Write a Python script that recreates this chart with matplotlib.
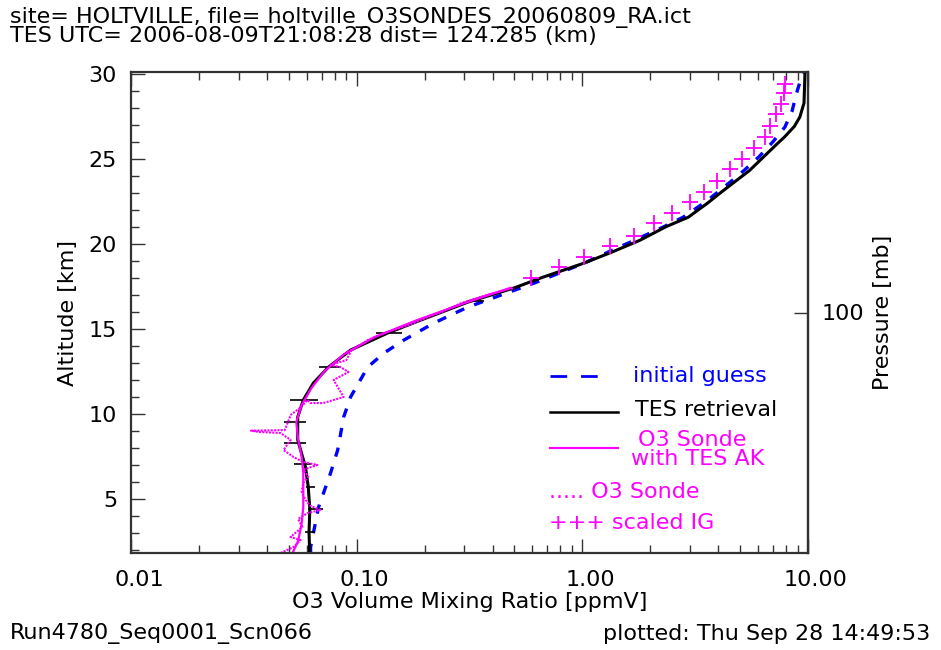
import matplotlib
matplotlib.use("Agg")
import matplotlib.pyplot as plt
import numpy as np
from matplotlib.ticker import FixedLocator, FuncFormatter, MultipleLocator, NullLocator
from matplotlib.transforms import ScaledTranslation

# ---- data ------------------------------------------------------------------
tes_alt = [1.8, 2.15, 3.0, 4.4, 5.7, 6.86, 8.45, 9.8, 10.8, 11.8, 12.74, 13.74,
           14.74, 15.5, 16.56, 17.4, 18.0, 18.86, 19.5, 20.2, 21.0, 21.56,
           22.4, 23.0, 23.56, 24.3, 25.1, 25.8, 26.3, 26.9, 27.45, 28.27, 30.1]
tes_vmr = [0.0618, 0.0618, 0.0615, 0.062, 0.061, 0.0593, 0.0548, 0.0548, 0.058,
           0.0643, 0.075, 0.094, 0.137, 0.192, 0.311, 0.50, 0.66, 1.02, 1.35,
           1.80, 2.35, 2.95, 3.6, 4.1, 4.65, 5.5, 6.35, 7.2, 7.9, 8.7, 9.2,
           9.6, 9.7]

ig_alt = [1.8, 2.15, 4.5, 6.5, 7.86, 9.8, 10.98, 12.74, 13.56, 14.33, 15.33,
          16.27, 17.68, 18.86, 19.5, 20.2, 21.0, 21.56, 22.5, 23.56, 24.3,
          25.1, 26.0, 26.86, 27.8, 28.86, 30.1]
ig_vmr = [0.0625, 0.0625, 0.0678, 0.0766, 0.0824, 0.0876, 0.094, 0.112, 0.132,
          0.162, 0.22, 0.311, 0.612, 1.02, 1.3, 1.7, 2.3, 2.8, 3.55, 4.46, 5.2,
          6.05, 7.0, 7.9, 8.5, 8.9, 9.5]

scaled_alt = [17.98, 18.62, 19.21, 19.86, 20.45, 21.2, 21.8, 22.45, 23.04,
              23.68, 24.39, 24.98, 25.62, 26.27, 26.9, 27.62, 28.2, 28.86, 29.4]
scaled_vmr = [0.593, 0.79, 1.02, 1.32, 1.69, 2.07, 2.49, 2.99, 3.45, 3.94, 4.5,
              5.09, 5.75, 6.44, 6.78, 7.21, 7.59, 7.82, 7.9]

ak_alt = [1.8, 2.5, 3.5, 4.5, 5.5, 6.5, 7.5, 8.5, 9.5, 10.5, 11.5, 12.5, 13.5,
          14.5, 15.5, 16.5, 17.4]
ak_vmr = [0.052, 0.055, 0.057, 0.058, 0.058, 0.058, 0.057, 0.055, 0.054, 0.057,
          0.063, 0.072, 0.088, 0.12, 0.185, 0.30, 0.48]

sonde_alt = [1.8, 2.15, 2.56, 2.74, 3.33, 3.8, 4.15, 4.33, 4.6, 4.92, 5.4, 5.92,
             6.3, 6.7, 6.98, 7.15, 7.45, 7.86, 8.45, 8.86, 8.92, 9.0, 9.03,
             9.62, 9.92, 10.33, 10.8, 10.62, 10.62, 10.98, 11.5, 11.98, 12.45,
             12.74, 12.86, 13.15, 13.74, 14.33, 14.74, 15.2, 15.6, 16.0, 16.5,
             17.0, 17.4]
sonde_vmr = [0.046, 0.0525, 0.0564, 0.0509, 0.0575, 0.055, 0.0606, 0.069, 0.062,
             0.0594, 0.057, 0.058, 0.061, 0.058, 0.067, 0.058, 0.0525, 0.0474,
             0.051, 0.046, 0.0367, 0.034, 0.048, 0.05, 0.051, 0.056, 0.0606,
             0.0625, 0.0712, 0.0876, 0.083, 0.079, 0.092, 0.0848, 0.0766, 0.09,
             0.095, 0.112, 0.132, 0.17, 0.2, 0.24, 0.29, 0.38, 0.5]

# TES error bars (altitude, low, high)
err_alt = [3.04, 4.39, 5.68, 7.04, 8.27, 9.5, 10.8, 12.74, 14.74, 16.62]
err_lo = [0.059, 0.061, 0.0594, 0.0525, 0.0474, 0.0474, 0.0509, 0.0678, 0.1216, 0.311]
err_hi = [0.0657, 0.0706, 0.0657, 0.0625, 0.0594, 0.0594, 0.0671, 0.0847, 0.1595, 0.365]

BLUE = "#0000FF"
MAG = "#FF00FF"
AX_COL = "#333333"
FS = 16

plt.rcParams["font.family"] = "DejaVu Sans"

fig = plt.figure(figsize=(9.41, 6.5), dpi=100)
ax = fig.add_axes([131 / 941, 1 - 553 / 650, 677 / 941, 481 / 650])

ax.plot(ig_vmr, ig_alt, color=BLUE, lw=2.4, dashes=(2.8, 3.2))
ax.plot(tes_vmr, tes_alt, color="black", lw=2.2)
ax.hlines(err_alt, err_lo, err_hi, color="black", lw=1.2)
ax.plot(sonde_vmr, sonde_alt, color=MAG, lw=1.5, ls=(0, (1, 0.6)))
ax.plot(ak_vmr, ak_alt, color=MAG, lw=1.6)
ax.plot(scaled_vmr, scaled_alt, ls="none", marker="+", ms=12, mew=1.3, color=MAG)

ax.set_xscale("log")
ax.set_xlim(0.01, 10)
ax.set_ylim(1.8, 30.1)
ax.xaxis.set_major_locator(FixedLocator([0.01, 0.1, 1, 10]))
ax.xaxis.set_major_formatter(FuncFormatter(lambda v, p: "%.2f" % v))
ax.yaxis.set_major_locator(MultipleLocator(5))
ax.yaxis.set_minor_locator(MultipleLocator(1))

for s in ax.spines.values():
    s.set_linewidth(1.6)
    s.set_color(AX_COL)
ax.tick_params(which="both", direction="in", top=True, right=False,
               color=AX_COL, width=1.0, labelsize=FS)
ax.tick_params(which="major", length=10)
ax.tick_params(which="minor", length=6)
ax.tick_params(axis="x", pad=12)
ax.tick_params(axis="y", pad=10)
# IDL puts the x labels a little right of the ticks
shift = ScaledTranslation(8 / 100, 0, fig.dpi_scale_trans)
for lab in ax.get_xticklabels():
    lab.set_transform(lab.get_transform() + shift)

ax.set_xlabel("O3 Volume Mixing Ratio [ppmV]", fontsize=FS, labelpad=2)
ax.set_ylabel("Altitude [km]", fontsize=FS, labelpad=8)

# right-hand pressure axis
H = 15.95 / np.log(10.0)
sec = ax.secondary_yaxis(
    "right",
    functions=(lambda z: 1000.0 * np.exp(-np.asarray(z) / H),
               lambda p: -H * np.log(np.clip(np.asarray(p), 1e-6, None) / 1000.0)))
sec.set_yticks([100])
sec.yaxis.set_minor_locator(NullLocator())
sec.tick_params(direction="in", length=10, width=1.0, color=AX_COL,
                labelsize=FS, pad=10)
sec.spines["right"].set_linewidth(1.6)
sec.spines["right"].set_color(AX_COL)
sec.set_ylabel("Pressure [mb]", fontsize=FS, labelpad=6)


# legend drawn by hand like the original
def fx(px):
    return (px - 131) / 677


def fy(py):
    return (553 - py) / 481


ax.plot([fx(550), fx(600)], [fy(376)] * 2, transform=ax.transAxes,
        color=BLUE, lw=2.0, dashes=(6, 5))
ax.text(fx(633), fy(376), "initial guess", transform=ax.transAxes,
        color=BLUE, fontsize=FS, va="center")
ax.plot([fx(550), fx(618)], [fy(412)] * 2, transform=ax.transAxes,
        color="black", lw=1.8)
ax.text(fx(635), fy(410), "TES retrieval", transform=ax.transAxes,
        color="black", fontsize=FS, va="center")
ax.plot([fx(550), fx(618)], [fy(448)] * 2, transform=ax.transAxes,
        color=MAG, lw=1.6)
ax.text(fx(638), fy(440), "O3 Sonde", transform=ax.transAxes,
        color=MAG, fontsize=FS, va="center")
ax.text(fx(631), fy(459), "with TES AK", transform=ax.transAxes,
        color=MAG, fontsize=FS, va="center")
ax.text(fx(549), fy(492), "..... O3 Sonde", transform=ax.transAxes,
        color=MAG, fontsize=FS, va="center")
ax.text(fx(549), fy(523), "+++ scaled IG", transform=ax.transAxes,
        color=MAG, fontsize=FS, va="center")

# header / footer text
fig.text(10 / 941, 1 - 17 / 650,
         "site= HOLTVILLE, file= holtville_O3SONDES_20060809_RA.ict",
         fontsize=FS, va="center", ha="left")
fig.text(10 / 941, 1 - 36 / 650,
         "TES UTC= 2006-08-09T21:08:28 dist= 124.285 (km)",
         fontsize=FS, va="center", ha="left")
fig.text(10 / 941, 1 - 634 / 650, "Run4780_Seq0001_Scn066",
         fontsize=FS, va="center", ha="left")
fig.text(930 / 941, 1 - 634 / 650, "plotted: Thu Sep 28 14:49:53",
         fontsize=FS, va="center", ha="right")

fig.savefig("out.png", dpi=100)
